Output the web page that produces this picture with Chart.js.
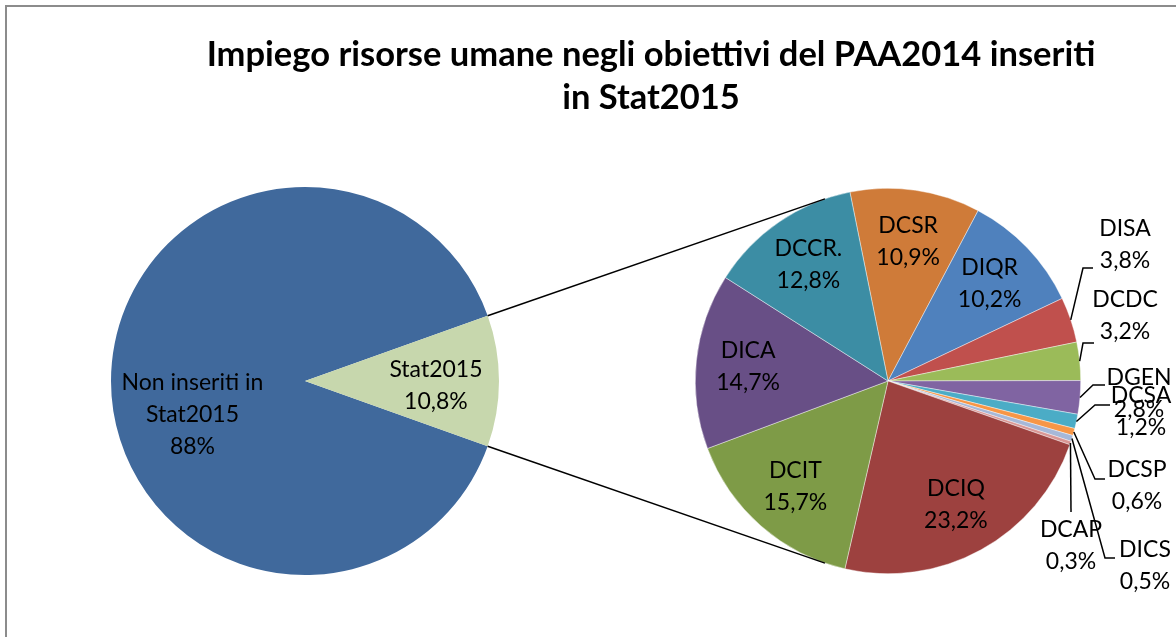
<!DOCTYPE html>
<html>
<head>
<meta charset="utf-8">
<script src="https://cdn.jsdelivr.net/npm/chart.js@4"></script>
<style>
  body { margin: 0; background: #fff; }
  #wrap { position: relative; width: 1176px; height: 637px; overflow: hidden; }
  #frame { position: absolute; left: 5px; top: 5px; width: 1200px; height: 700px; border: 2px solid #8c8c8c; }
  .layer { position: absolute; left: 0; top: 0; width: 1176px; height: 637px; }
</style>
</head>
<body>
<div id="wrap">
  <div id="frame"></div>
  <div class="layer"><canvas id="leftPie"></canvas></div>
  <div class="layer"><canvas id="rightPie"></canvas></div>
</div>
<script>
// data
const titleLines = ['Impiego risorse umane negli obiettivi del PAA2014 inseriti', 'in Stat2015'];
const leftLabels = ['Non inseriti in\nStat2015', 'Stat2015'];
const leftValues = [88, 10.8];
const rightLabels = ['DCSR', 'DIQR', 'DISA', 'DCDC', 'DGEN', 'DCSA', 'DCSP', 'DICS', 'DCAP', 'DCIQ', 'DCIT', 'DICA', 'DCCR.'];
const rightValues = [10.9, 10.2, 3.8, 3.2, 2.8, 1.2, 0.6, 0.5, 0.3, 23.2, 15.7, 14.7, 12.8];

const leftColors = ['#40699c', '#c7d7ad'];
const rightColors = ['#cf7b39', '#4f81bd', '#c0504d', '#9bbb59', '#8064a2', '#4bacc6', '#f79646',
  '#a6b8d8', '#d99694', '#9d413f', '#7e9b47', '#684f86', '#3c8da4'];

// label placement (offsets relative to pie centre)
const leftLabelPos = [{ frac: 0.58, dy: 34 }, { frac: 0.675, dy: 5 }];
const insideFrac = 0.73;
const outsideLabels = {
  'DISA': { tx: 237, ty: -136, ex: 195, ey: -113, tail: 10 },
  'DCDC': { tx: 237, ty: -65, ex: 195, ey: -38, tail: 11 },
  'DGEN': { tx: 251, ty: 13, ex: 205, ey: 4, tail: 12 },
  'DCSA': { tx: 253, ty: 31, ex: 207, ey: 24, tail: 15 },
  'DCSP': { tx: 249, ty: 105, ex: 207, ey: 98, tail: 10 },
  'DICS': { tx: 257, ty: 185, ex: 217, ey: 177, tail: 10 },
  'DCAP': { tx: 183, ty: 165, ex: 183, ey: 131, tail: 0 }
};

const labelFont = '23px Lato';
const lineH = 32;

function pct(v) {
  return (Number.isInteger(v) ? String(v) : v.toFixed(1).replace('.', ',')) + '%';
}

function drawBlock(ctx, lines, x, y) {
  ctx.save();
  ctx.font = labelFont;
  ctx.fillStyle = '#000';
  ctx.textAlign = 'center';
  ctx.textBaseline = 'middle';
  const top = y - (lines.length - 1) * lineH / 2;
  lines.forEach((l, i) => ctx.fillText(l, x, top + i * lineH));
  ctx.restore();
}

const leftTotal = leftValues.reduce((a, b) => a + b, 0);
const a0 = 360 * leftValues[0] / leftTotal;
const a1 = 360 * leftValues[1] / leftTotal;

const leftLabelPlugin = {
  id: 'leftLabels',
  afterDatasetsDraw(chart) {
    const ctx = chart.ctx;
    chart.getDatasetMeta(0).data.forEach((arc, i) => {
      const mid = (arc.startAngle + arc.endAngle) / 2;
      const p = leftLabelPos[i];
      const x = arc.x + Math.cos(mid) * arc.outerRadius * p.frac;
      const y = arc.y + Math.sin(mid) * arc.outerRadius * p.frac + p.dy;
      const lines = leftLabels[i].split('\n').concat([pct(leftValues[i])]);
      drawBlock(ctx, lines, x, y);
    });
  }
};

const leftChart = new Chart(document.getElementById('leftPie'), {
  type: 'pie',
  data: {
    labels: leftLabels,
    datasets: [{ data: leftValues, backgroundColor: leftColors, borderWidth: 0 }]
  },
  options: {
    responsive: true,
    maintainAspectRatio: false,
    animation: false,
    rotation: 90 - a0 - a1 / 2,
    layout: { padding: { left: 111, top: 187, right: 677, bottom: 62 } },
    plugins: { legend: { display: false }, tooltip: { enabled: false } }
  },
  plugins: [leftLabelPlugin]
});

const rightLabelPlugin = {
  id: 'rightLabels',
  afterDraw(chart) {
    const ctx = chart.ctx;
    const arcs = chart.getDatasetMeta(0).data;
    const cx = arcs[0].x, cy = arcs[0].y, r = arcs[0].outerRadius;

    // title
    ctx.save();
    ctx.font = 'bold 34.5px Lato';
    ctx.fillStyle = '#000';
    ctx.textAlign = 'center';
    ctx.textBaseline = 'middle';
    ctx.fillText(titleLines[0], 651, 55);
    ctx.fillText(titleLines[1], 651, 98);
    ctx.restore();

    // connector lines from the Stat2015 slice to the second pie
    const src = leftChart.getDatasetMeta(0).data[1];
    ctx.save();
    ctx.strokeStyle = '#000';
    ctx.lineWidth = 1.5;
    [[src.startAngle, 1], [src.endAngle, -1]].forEach(([ang, s]) => {
      const px = src.x + Math.cos(ang) * src.outerRadius;
      const py = src.y + Math.sin(ang) * src.outerRadius;
      const d = Math.hypot(px - cx, py - cy);
      const phi = Math.atan2(py - cy, px - cx);
      const t = phi + s * Math.acos(r / d);
      ctx.beginPath();
      ctx.moveTo(px, py);
      ctx.lineTo(cx + Math.cos(t) * r, cy + Math.sin(t) * r);
      ctx.stroke();
    });
    ctx.restore();

    // slice labels
    arcs.forEach((arc, i) => {
      const name = rightLabels[i];
      const mid = (arc.startAngle + arc.endAngle) / 2;
      const lines = [name, pct(rightValues[i])];
      const o = outsideLabels[name];
      if (!o) {
        drawBlock(ctx, lines, cx + Math.cos(mid) * r * insideFrac, cy + Math.sin(mid) * r * insideFrac);
        return;
      }
      ctx.save();
      ctx.strokeStyle = '#000';
      ctx.lineWidth = 1.5;
      ctx.beginPath();
      ctx.moveTo(cx + Math.cos(mid) * r, cy + Math.sin(mid) * r);
      ctx.lineTo(cx + o.ex, cy + o.ey);
      ctx.lineTo(cx + o.ex + o.tail, cy + o.ey);
      ctx.stroke();
      ctx.restore();
      drawBlock(ctx, lines, cx + o.tx, cy + o.ty);
    });
  }
};

new Chart(document.getElementById('rightPie'), {
  type: 'pie',
  data: {
    labels: rightLabels,
    datasets: [{ data: rightValues, backgroundColor: rightColors, borderWidth: 0.6, borderColor: 'rgba(255,255,255,0.7)' }]
  },
  options: {
    responsive: true,
    maintainAspectRatio: false,
    animation: false,
    rotation: -11.4,
    layout: { padding: { left: 695, top: 188, right: 95, bottom: 63 } },
    plugins: { legend: { display: false }, tooltip: { enabled: false } }
  },
  plugins: [rightLabelPlugin]
});
</script>
</body>
</html>
